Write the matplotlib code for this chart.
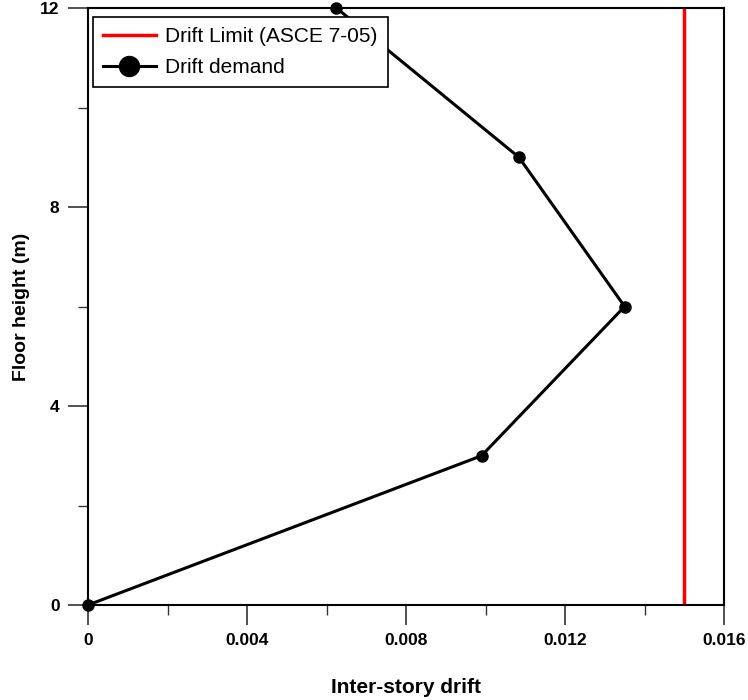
import matplotlib
matplotlib.use("Agg")
import matplotlib.pyplot as plt
from matplotlib.ticker import MultipleLocator

plt.rcParams['font.family'] = ['Liberation Sans', 'DejaVu Sans']

# drift demand profile
drift = [0.0, 0.0099, 0.01350, 0.01084, 0.00625]
height = [0, 3, 6, 9, 12]
drift_limit = 0.015
xticks = [0, 0.004, 0.008, 0.012, 0.016]
xticklabels = ['0', '0.004', '0.008', '0.012', '0.016']

fig = plt.figure(figsize=(7.48, 7.0), dpi=100)
ax = fig.add_axes([88/748, 1-605/700, (724-88)/748, (605-8)/700])

ax.axvline(drift_limit, color='red', lw=2.5, label='Drift Limit (ASCE 7-05)')
ax.plot(drift, height, color='black', lw=2.2, marker='o', ms=8,
        label='Drift demand', clip_on=False, zorder=5)

ax.set_xlim(0, 0.016)
ax.set_ylim(0, 12)
ax.set_xticks(xticks)
ax.set_xticklabels(xticklabels)
ax.xaxis.set_minor_locator(MultipleLocator(0.002))
ax.yaxis.set_major_locator(MultipleLocator(4))
ax.yaxis.set_minor_locator(MultipleLocator(2))

for s in ax.spines.values():
    s.set_linewidth(1.5)
ax.tick_params(which='major', direction='out', length=14.5, width=1.2,
               color='#333333', pad=6)
ax.tick_params(which='minor', direction='out', length=7.5, width=1.0,
               color='#333333')
for lbl in ax.get_xticklabels() + ax.get_yticklabels():
    lbl.set_fontweight('bold')
    lbl.set_fontsize(12.5)

ax.set_xlabel('Inter-story drift', fontsize=15, fontweight='bold', labelpad=21)
ax.set_ylabel('Floor height (m)', fontsize=14, fontweight='bold', labelpad=7)

leg = ax.legend(loc='upper left', bbox_to_anchor=(5/636, 1-9/597),
                fontsize=15, frameon=True, fancybox=False,
                edgecolor='black', framealpha=1, markerscale=1.8,
                borderaxespad=0, handlelength=2.5, handletextpad=0.45,
                borderpad=0.5, labelspacing=0.55)
leg.get_frame().set_linewidth(1.2)

fig.savefig('out.png', dpi=100)
